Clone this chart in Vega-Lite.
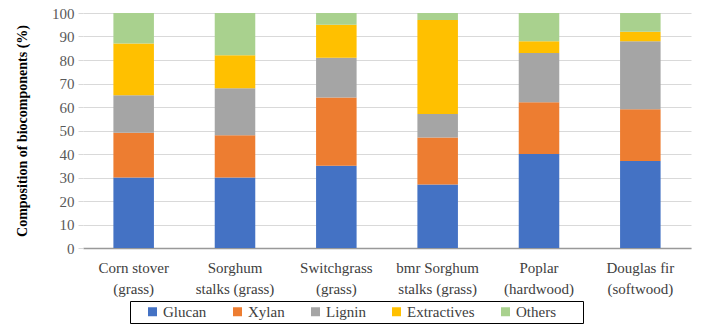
{
  "$schema": "https://vega.github.io/schema/vega-lite/v6.json",
  "width": 608,
  "height": 235,
  "padding": {"left": 15, "top": 6, "right": 11, "bottom": 5},
  "background": "white",
  "config": {
    "font": "Liberation Serif",
    "view": {"stroke": null},
    "axis": {"labelFont": "Liberation Serif", "titleFont": "Liberation Serif"},
    "legend": {"labelFont": "Liberation Serif", "titleFont": "Liberation Serif"}
  },
  "data": {
    "values": [
      {"biomass": "Corn stover (grass)", "component": "Glucan", "value": 30},
      {"biomass": "Corn stover (grass)", "component": "Xylan", "value": 19},
      {"biomass": "Corn stover (grass)", "component": "Lignin", "value": 16},
      {"biomass": "Corn stover (grass)", "component": "Extractives", "value": 22},
      {"biomass": "Corn stover (grass)", "component": "Others", "value": 13},
      {"biomass": "Sorghum stalks (grass)", "component": "Glucan", "value": 30},
      {"biomass": "Sorghum stalks (grass)", "component": "Xylan", "value": 18},
      {"biomass": "Sorghum stalks (grass)", "component": "Lignin", "value": 20},
      {"biomass": "Sorghum stalks (grass)", "component": "Extractives", "value": 14},
      {"biomass": "Sorghum stalks (grass)", "component": "Others", "value": 18},
      {"biomass": "Switchgrass (grass)", "component": "Glucan", "value": 35},
      {"biomass": "Switchgrass (grass)", "component": "Xylan", "value": 29},
      {"biomass": "Switchgrass (grass)", "component": "Lignin", "value": 17},
      {"biomass": "Switchgrass (grass)", "component": "Extractives", "value": 14},
      {"biomass": "Switchgrass (grass)", "component": "Others", "value": 5},
      {"biomass": "bmr Sorghum stalks (grass)", "component": "Glucan", "value": 27},
      {"biomass": "bmr Sorghum stalks (grass)", "component": "Xylan", "value": 20},
      {"biomass": "bmr Sorghum stalks (grass)", "component": "Lignin", "value": 10},
      {"biomass": "bmr Sorghum stalks (grass)", "component": "Extractives", "value": 40},
      {"biomass": "bmr Sorghum stalks (grass)", "component": "Others", "value": 3},
      {"biomass": "Poplar (hardwood)", "component": "Glucan", "value": 40},
      {"biomass": "Poplar (hardwood)", "component": "Xylan", "value": 22},
      {"biomass": "Poplar (hardwood)", "component": "Lignin", "value": 21},
      {"biomass": "Poplar (hardwood)", "component": "Extractives", "value": 5},
      {"biomass": "Poplar (hardwood)", "component": "Others", "value": 12},
      {"biomass": "Douglas fir (softwood)", "component": "Glucan", "value": 37},
      {"biomass": "Douglas fir (softwood)", "component": "Xylan", "value": 22},
      {"biomass": "Douglas fir (softwood)", "component": "Lignin", "value": 29},
      {"biomass": "Douglas fir (softwood)", "component": "Extractives", "value": 4},
      {"biomass": "Douglas fir (softwood)", "component": "Others", "value": 8}
    ]
  },
  "transform": [
    {"calculate": "indexof(['Glucan', 'Xylan', 'Lignin', 'Extractives', 'Others'], datum.component)", "as": "stackOrder"}
  ],
  "mark": {"type": "bar"},
  "encoding": {
    "x": {
      "field": "biomass",
      "type": "nominal",
      "sort": ["Corn stover (grass)", "Sorghum stalks (grass)", "Switchgrass (grass)", "bmr Sorghum stalks (grass)", "Poplar (hardwood)", "Douglas fir (softwood)"],
      "scale": {"paddingInner": 0.6, "paddingOuter": 0.3},
      "axis": {
        "title": null,
        "labelAngle": 0,
        "labelFontSize": 15,
        "labelColor": "#404040",
        "labelPadding": 12,
        "labelLineHeight": 21,
        "ticks": false,
        "domainColor": "#999999",
        "domainWidth": 1.5,
        "labelExpr": "datum.label == 'Sorghum stalks (grass)' ? ['Sorghum', 'stalks (grass)'] : datum.label == 'bmr Sorghum stalks (grass)' ? ['bmr Sorghum', 'stalks (grass)'] : split(replace(datum.label, ' (', '|('), '|')"
      }
    },
    "y": {
      "field": "value",
      "type": "quantitative",
      "stack": "zero",
      "scale": {"domain": [0, 100]},
      "axis": {
        "title": "Composition of biocomponents (%)",
        "titleFontSize": 14,
        "titleFontWeight": "bold",
        "titleColor": "#000000",
        "titlePadding": 22,
        "values": [0, 10, 20, 30, 40, 50, 60, 70, 80, 90, 100],
        "labelFontSize": 15,
        "labelColor": "#595959",
        "labelPadding": 4,
        "domain": false,
        "ticks": true,
        "tickSize": 5,
        "tickColor": "#d9d9d9",
        "gridColor": "#d9d9d9",
        "gridWidth": 1
      }
    },
    "color": {
      "field": "component",
      "type": "nominal",
      "scale": {
        "domain": ["Glucan", "Xylan", "Lignin", "Extractives", "Others"],
        "range": ["#4472C4", "#ED7D31", "#A5A5A5", "#FFC000", "#A9D18E"]
      },
      "legend": {
        "title": " ",
        "titleOrient": "right",
        "titlePadding": 24,
        "orient": "none",
        "legendX": 47,
        "legendY": 288,
        "direction": "horizontal",
        "strokeColor": "#000000",
        "padding": 3,
        "symbolOffset": 12,
        "symbolType": "square",
        "symbolSize": 81,
        "symbolStrokeWidth": 0,
        "labelFont": "Liberation Serif",
        "labelFontSize": 15,
        "labelColor": "#404040",
        "labelOffset": 3,
        "columnPadding": 11
      }
    },
    "order": {"field": "stackOrder", "type": "quantitative", "sort": "ascending"}
  }
}
